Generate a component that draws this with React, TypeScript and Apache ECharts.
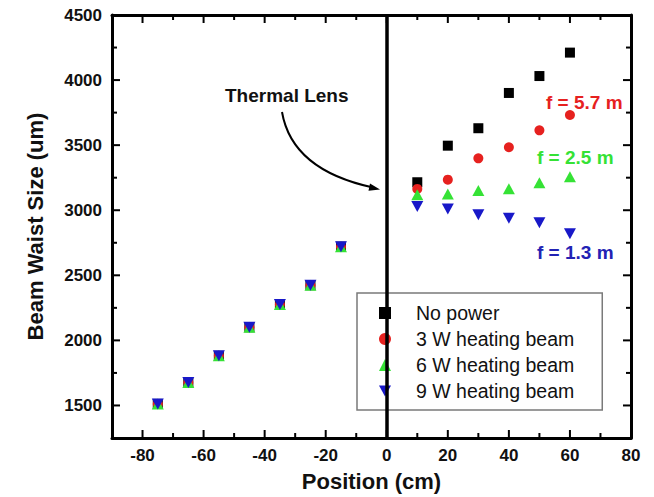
import React, { useEffect, useRef } from "react";
import * as echarts from "echarts";

const leftPositions = [-75, -65, -55, -45, -35, -25, -15];
const leftWaist = [1512, 1676, 1881, 2101, 2275, 2424, 2720];
const rightPositions = [10, 20, 30, 40, 50, 60];
const noPowerRight = [3215, 3496, 3630, 3901, 4031, 4211];
const w3Right = [3164, 3235, 3399, 3484, 3614, 3732];
const w6Right = [3118, 3125, 3151, 3166, 3212, 3258];
const w9Right = [3028, 3010, 2966, 2939, 2903, 2820];

const seriesNames = ["No power", "3 W heating beam", "6 W heating beam", "9 W heating beam"];
const annotations = ["f = 5.7 m", "f = 2.5 m", "f = 1.3 m"];

const X_MIN = -90, X_MAX = 80;
const Y_MIN = 1250, Y_MAX = 4500;
const xMajor = [-80, -60, -40, -20, 0, 20, 40, 60, 80];
const xMinor = [-70, -50, -30, -10, 10, 30, 50, 70];
const yMajor = [1500, 2000, 2500, 3000, 3500, 4000, 4500];
const yMinor = [1750, 2250, 2750, 3250, 3750, 4250];

const RED = "#e6211f";
const GREEN = "#35e235";
const BLUE = "#1818c8";
const FONT = "'Liberation Sans', Arial, Helvetica, sans-serif";
const DOWN_TRI = "path://M0,0 L12,0 L6,11 Z";

function pairs(rightVals: number[]) {
  const d: number[][] = [];
  leftPositions.forEach((x, i) => d.push([x, leftWaist[i]]));
  rightPositions.forEach((x, i) => d.push([x, rightVals[i]]));
  return d;
}

export default function App() {
  const ref = useRef<HTMLDivElement>(null);
  useEffect(() => {
    if (!ref.current) return;
    const chart = echarts.init(ref.current, undefined, { renderer: "svg" });

    const lineStyle = { color: "#000", width: 3 };
    const labelStyle = { fontSize: 17, fontWeight: "bold", color: "#111", fontFamily: FONT };

    const xAxes: any[] = [
      {
        type: "value", position: "bottom", min: X_MIN, max: X_MAX,
        axisLine: { show: true, onZero: false, lineStyle },
        axisTick: { show: false },
        axisLabel: { show: true, customValues: xMajor, margin: 9, ...labelStyle },
        splitLine: { show: false },
        name: "Position (cm)", nameLocation: "middle", nameGap: 32,
        nameTextStyle: { fontSize: 22, fontWeight: "bold", color: "#111", fontFamily: FONT },
      },
      {
        type: "value", position: "top", min: X_MIN, max: X_MAX,
        axisLine: { show: true, onZero: false, lineStyle },
        axisTick: { show: false }, axisLabel: { show: false }, splitLine: { show: false },
      },
    ];
    const yAxes: any[] = [
      {
        type: "value", position: "left", min: Y_MIN, max: Y_MAX,
        axisLine: { show: true, onZero: false, lineStyle },
        axisTick: { show: false },
        axisLabel: { show: true, customValues: yMajor, margin: 10, formatter: (v: number) => String(v), ...labelStyle },
        splitLine: { show: false },
        name: "Beam Waist Size (um)", nameLocation: "middle", nameGap: 66,
        nameTextStyle: { fontSize: 22, fontWeight: "bold", color: "#111", fontFamily: FONT },
      },
      {
        type: "value", position: "right", min: Y_MIN, max: Y_MAX,
        axisLine: { show: true, onZero: false, lineStyle },
        axisTick: { show: false }, axisLabel: { show: false }, splitLine: { show: false },
      },
    ];

    const colors = ["#000000", RED, GREEN, BLUE];
    const symbols = ["rect", "circle", "triangle", DOWN_TRI];
    const sizes: any[] = [10, 10, [12, 11], [12, 11]];
    const rightData = [noPowerRight, w3Right, w6Right, w9Right];

    const series: any[] = seriesNames.map((name, i) => ({
      name,
      type: "scatter",
      xAxisIndex: 0,
      yAxisIndex: 0,
      symbol: symbols[i],
      symbolSize: sizes[i],
      itemStyle: { color: colors[i], opacity: 1 },
      data: pairs(rightData[i]),
      z: 3 + i,
    }));
    series[0].markLine = {
      silent: true,
      symbol: ["none", "none"],
      label: { show: false },
      lineStyle: { color: "#000", width: 3.5, type: "solid" },
      data: [{ xAxis: 0 }],
    };

    const baseGraphic: any[] = [
      {
        type: "text",
        left: 225,
        top: 86,
        style: { text: "Thermal Lens", fontSize: 19, fontWeight: "bold", fontFamily: FONT, fill: "#111" },
      },
      {
        type: "bezierCurve",
        shape: { x1: 282, y1: 112, x2: 373, y2: 187.5, cpx1: 292, cpy1: 170 },
        style: { stroke: "#000", lineWidth: 2, fill: "none" },
      },
      {
        type: "polygon",
        shape: { points: [[380, 189.5], [368.5, 190.8], [370, 183.5]] },
        style: { fill: "#000" },
      },
      {
        type: "text",
        left: 546,
        top: 93,
        style: { text: annotations[0], fontSize: 19, fontWeight: "bold", fontFamily: FONT, fill: RED },
      },
      {
        type: "text",
        left: 537,
        top: 148,
        style: { text: annotations[1], fontSize: 19, fontWeight: "bold", fontFamily: FONT, fill: GREEN },
      },
      {
        type: "text",
        left: 537,
        top: 243,
        style: { text: annotations[2], fontSize: 19, fontWeight: "bold", fontFamily: FONT, fill: "#2222b4" },
      },
    ];

    chart.setOption({
      animation: false,
      backgroundColor: "#fff",
      grid: { left: 112, right: 23, top: 15, bottom: 59, containLabel: false },
      xAxis: xAxes,
      yAxis: yAxes,
      legend: {
        orient: "vertical",
        left: 357,
        top: 293,
        data: seriesNames,
        itemWidth: 12,
        itemHeight: 12,
        itemGap: 6,
        padding: [10, 28, 9, 22],
        borderColor: "#7a7a7a",
        borderWidth: 1.5,
        backgroundColor: "#fff",
        textStyle: { fontSize: 19.5, fontFamily: FONT, color: "#111", padding: [0, 0, 0, 20], lineHeight: 20 },
      },
      series,
      graphic: baseGraphic,
    });

    // inward ticks on all four sides, positioned through the axes' scales
    const px = (v: number) => chart.convertToPixel({ xAxisIndex: 0 } as any, v) as unknown as number;
    const py = (v: number) => chart.convertToPixel({ yAxisIndex: 0 } as any, v) as unknown as number;
    const left = px(X_MIN), right = px(X_MAX), bottom = py(Y_MIN), top = py(Y_MAX);
    const stroke = { stroke: "#000", lineWidth: 2 };
    const ticks: any[] = [];
    const addX = (v: number, len: number) => {
      const x = px(v);
      ticks.push({ type: "line", z: 20, silent: true, shape: { x1: x, y1: bottom, x2: x, y2: bottom - len }, style: stroke });
      ticks.push({ type: "line", z: 20, silent: true, shape: { x1: x, y1: top, x2: x, y2: top + len }, style: stroke });
    };
    const addY = (v: number, len: number) => {
      const y = py(v);
      ticks.push({ type: "line", z: 20, silent: true, shape: { x1: left, y1: y, x2: left + len, y2: y }, style: stroke });
      ticks.push({ type: "line", z: 20, silent: true, shape: { x1: right, y1: y, x2: right - len, y2: y }, style: stroke });
    };
    xMajor.forEach((v) => addX(v, 8));
    xMinor.forEach((v) => addX(v, 5));
    yMajor.forEach((v) => addY(v, 8));
    yMinor.forEach((v) => addY(v, 5));
    chart.setOption({ graphic: [...baseGraphic, ...ticks] });

    return () => chart.dispose();
  }, []);
  return <div ref={ref} style={{ width: 654, height: 497, position: "absolute", left: 0, top: 0 }} />;
}
